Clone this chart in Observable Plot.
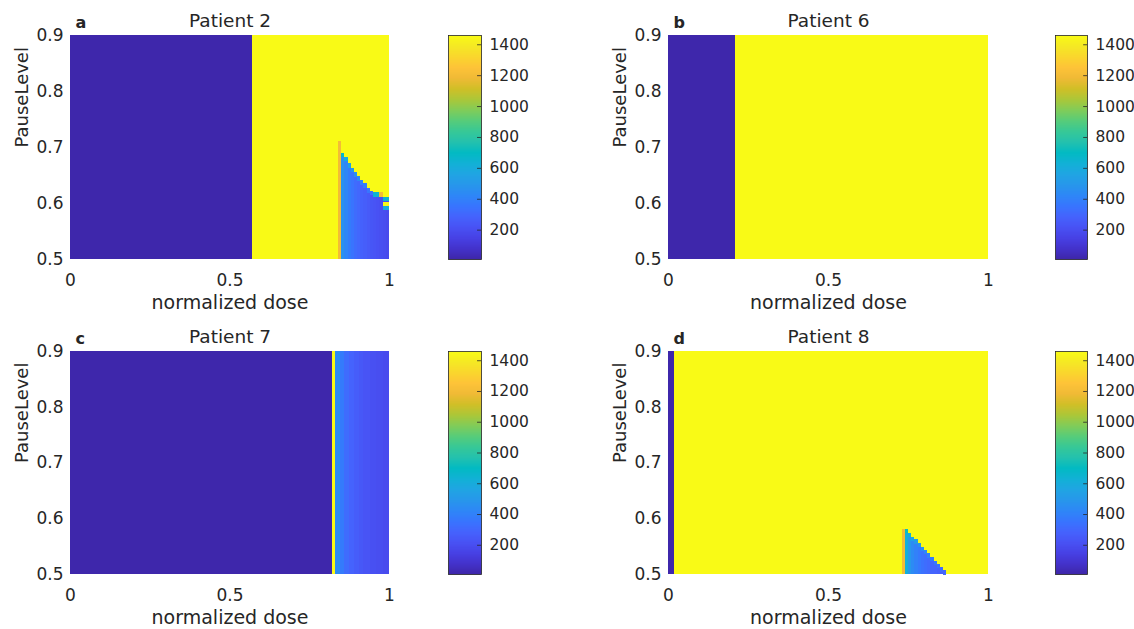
<!DOCTYPE html>
<html>
<head>
<meta charset="utf-8">
<script src="https://cdn.jsdelivr.net/npm/d3@7"></script>
<script src="https://cdn.jsdelivr.net/npm/@observablehq/plot@0.6"></script>
<style>
  html, body { margin: 0; padding: 0; background: #ffffff; overflow: hidden; }
  #fig { position: relative; width: 1134px; height: 629px; background: #ffffff; }
  #fig svg { position: absolute; left: 0; top: 0; }
</style>
</head>
<body>
<div id="fig"></div>
<script>
// ---------------- data ----------------
const titles = ["Patient 2", "Patient 6", "Patient 7", "Patient 8"];
const letters = ["a", "b", "c", "d"];
const xLabel = "normalized dose";
const yLabel = "PauseLevel";

const doseTicks = [0, 0.5, 1];
const doseTickLabels = ["0", "0.5", "1"];
const pauseTicks = [0.5, 0.6, 0.7, 0.8, 0.9];
const pauseTickLabels = ["0.5", "0.6", "0.7", "0.8", "0.9"];
const cbTicks = [200, 400, 600, 800, 1000, 1200, 1400];
const cbTickLabels = ["200", "400", "600", "800", "1000", "1200", "1400"];
const valueRange = [10, 1460];
const pauseRange = [0.5, 0.9];
const doseStep = 0.01;   // grid resolution of the dose axis
const edgeHeight = 0.008; // grid resolution of the pause axis (top cell)

// Patient 2 (a)
const bandA_x1 = [0, 0.57];
const bandA_x2 = [0.57, 1];
const bandA_v = [15, 1455];
const stairA_x = [0.84, 0.85, 0.86, 0.87, 0.88, 0.89, 0.90, 0.91, 0.92, 0.93, 0.94, 0.95, 0.96, 0.97, 0.98, 0.99];
const stairA_top = [0.71, 0.69, 0.683, 0.671, 0.663, 0.655, 0.648, 0.641, 0.635, 0.626, 0.622, 0.619, 0.619, 0.619, 0.611, 0.611];
const stairA_body = [1200, 470, 420, 380, 350, 320, 300, 280, 265, 250, 235, 225, 215, 205, 195, 185];
const stairA_edge = [1200, 680, 600, 540, 500, 460, 430, 400, 380, 360, 340, 650, 650, 1200, 650, 650];
const extraA_x1 = [0.98, 0.98];
const extraA_x2 = [1.0, 1.0];
const extraA_y1 = [0.595, 0.587];
const extraA_y2 = [0.602, 0.595];
const extraA_v = [1455, 600];

// Patient 6 (b)
const bandB_x1 = [0, 0.21];
const bandB_x2 = [0.21, 1];
const bandB_v = [15, 1455];

// Patient 7 (c)
const bandC_x1 = [0, 0.82, 0.83, 0.845, 0.86, 0.875, 0.89, 0.905, 0.92, 0.94, 0.96, 0.98];
const bandC_x2 = [0.82, 0.83, 0.845, 0.86, 0.875, 0.89, 0.905, 0.92, 0.94, 0.96, 0.98, 1];
const bandC_v = [15, 1455, 440, 380, 320, 285, 260, 240, 225, 210, 200, 190];

// Patient 8 (d)
const bandD_x1 = [0, 0.018];
const bandD_x2 = [0.018, 1];
const bandD_v = [15, 1455];
const stairD_x = [0.73, 0.74, 0.75, 0.76, 0.77, 0.78, 0.79, 0.80, 0.81, 0.82, 0.83, 0.84, 0.85, 0.86];
const stairD_top = [0.581, 0.581, 0.574, 0.567, 0.562, 0.556, 0.549, 0.543, 0.537, 0.531, 0.524, 0.518, 0.512, 0.507];
const stairD_body = [1200, 620, 500, 440, 400, 370, 345, 325, 310, 295, 285, 275, 265, 255];
const stairD_edge = [1200, 720, 620, 560, 520, 480, 450, 420, 400, 380, 360, 340, 320, 300];

// ---------------- styling ----------------
const INK = "#262626";
const FONT = "'DejaVu Sans', 'Liberation Sans', Arial, sans-serif";
// MATLAB parula colormap anchors
const PARULA = ["#3e26a8", "#4332cb", "#4741e5", "#4852f4", "#4563fd", "#3875fe", "#2e87f7", "#2797eb",
  "#20a5e3", "#12b1d6", "#02bac3", "#24c1ae", "#37c897", "#57cc7a", "#81cc59", "#abc739",
  "#d1bf27", "#f0ba36", "#fec338", "#fad62d", "#f5e924", "#f9fb15"];
const COLOR = {type: "linear", domain: valueRange, interpolate: d3.piecewise(d3.interpolateRgb, PARULA), clamp: true};

const W = 1134, H = 629;
const frames = [
  {left: 70, right: 389, top: 35, bottom: 259, cbLeft: 448, cbRight: 481},
  {left: 668, right: 988, top: 35, bottom: 259, cbLeft: 1055, cbRight: 1087},
  {left: 70, right: 389, top: 351, bottom: 574, cbLeft: 448, cbRight: 481},
  {left: 668, right: 988, top: 351, bottom: 574, cbLeft: 1055, cbRight: 1087}
];

// ---------------- assemble cells ----------------
function bandCells(x1, x2, v) {
  return x1.map((d, i) => ({x1: d, x2: x2[i], y1: pauseRange[0], y2: pauseRange[1], v: v[i]}));
}
function stairCells(xs, tops, body, edge) {
  const out = [];
  xs.forEach((x, i) => {
    out.push({x1: x, x2: x + doseStep, y1: pauseRange[0], y2: tops[i] - edgeHeight, v: body[i]});
    out.push({x1: x, x2: x + doseStep, y1: tops[i] - edgeHeight, y2: tops[i], v: edge[i]});
  });
  return out;
}
function extraCells(x1, x2, y1, y2, v) {
  return x1.map((d, i) => ({x1: d, x2: x2[i], y1: y1[i], y2: y2[i], v: v[i]}));
}

const cellsA = [...bandCells(bandA_x1, bandA_x2, bandA_v),
  ...stairCells(stairA_x, stairA_top, stairA_body, stairA_edge),
  ...extraCells(extraA_x1, extraA_x2, extraA_y1, extraA_y2, extraA_v)];
const cellsB = bandCells(bandB_x1, bandB_x2, bandB_v);
const cellsC = bandCells(bandC_x1, bandC_x2, bandC_v);
const cellsD = [...bandCells(bandD_x1, bandD_x2, bandD_v),
  ...stairCells(stairD_x, stairD_top, stairD_body, stairD_edge)];
const panelCells = [cellsA, cellsB, cellsC, cellsD];

// ---------------- charts ----------------
function heatmap(cells, f, title, letter) {
  return Plot.plot({
    width: W, height: H,
    marginLeft: f.left, marginRight: W - f.right, marginTop: f.top, marginBottom: H - f.bottom,
    style: {background: "transparent", fontFamily: FONT, fontSize: "17px", color: INK},
    x: {domain: [0, 1]},
    y: {domain: pauseRange},
    color: COLOR,
    marks: [
      Plot.rect(cells, {x1: "x1", x2: "x2", y1: "y1", y2: "y2", fill: "v", shapeRendering: "crispEdges"}),
      Plot.axisX({ticks: doseTicks, tickFormat: d => doseTickLabels[doseTicks.indexOf(d)], tickSize: 0, tickPadding: 14, label: null, fontSize: 17}),
      Plot.axisY({ticks: pauseTicks, tickFormat: d => pauseTickLabels[pauseTicks.indexOf(d)], tickSize: 0, tickPadding: 7, label: null, fontSize: 17}),
      Plot.text([xLabel], {text: d => d, frameAnchor: "bottom", dy: 36, lineAnchor: "top", fontSize: 19}),
      Plot.text([yLabel], {text: d => d, frameAnchor: "left", dx: -48, rotate: -90, fontSize: 18}),
      Plot.text([title], {text: d => d, frameAnchor: "top", dy: -9, lineAnchor: "bottom", fontSize: 18.5}),
      Plot.text([letter], {text: d => d, frameAnchor: "top-left", dx: 5, dy: -8, lineAnchor: "bottom", textAnchor: "start", fontWeight: "bold", fontSize: 16})
    ]
  });
}

function colorbar(f) {
  return Plot.plot({
    width: W, height: H,
    marginLeft: f.cbLeft, marginRight: W - f.cbRight, marginTop: f.top, marginBottom: H - f.bottom,
    style: {background: "transparent", fontFamily: FONT, fontSize: "15px", color: INK},
    x: {domain: [0, 1], axis: null},
    y: {domain: valueRange, axis: null},
    color: COLOR,
    marks: [
      Plot.raster({fill: (x, y) => y, x1: 0, x2: 1, y1: valueRange[0], y2: valueRange[1], width: 2, height: 400, imageRendering: "auto"}),
      Plot.ruleY(cbTicks, {x1: 0.88, x2: 1, stroke: INK, strokeWidth: 0.8}),
      Plot.frame({stroke: INK, strokeWidth: 0.8}),
      Plot.axisY({anchor: "right", ticks: cbTicks, tickFormat: d => cbTickLabels[cbTicks.indexOf(d)], tickSize: 0, tickPadding: 8, label: null, fontSize: 15.5})
    ]
  });
}

const fig = document.getElementById("fig");
frames.forEach((f, i) => {
  fig.appendChild(heatmap(panelCells[i], f, titles[i], letters[i]));
  fig.appendChild(colorbar(f));
});
</script>
</body>
</html>
